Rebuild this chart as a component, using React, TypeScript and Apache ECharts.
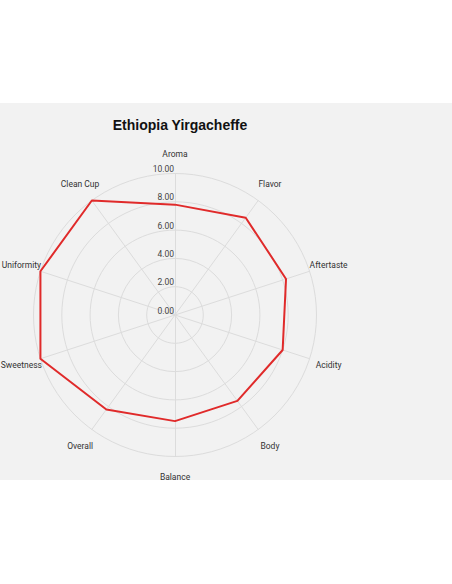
import { useEffect, useRef } from 'react';
import * as echarts from 'echarts';

const indicators = [
  'Aroma',
  'Flavor',
  'Aftertaste',
  'Acidity',
  'Body',
  'Balance',
  'Overall',
  'Sweetness',
  'Uniformity',
  'Clean Cup',
];

const scores = [7.8, 8.5, 8.25, 8.0, 7.5, 7.5, 8.25, 10, 10, 10];

const title = 'Ethiopia Yirgacheffe';
const scoreMax = 10;

// echarts lays indicators out counter-clockwise; the reference goes clockwise
const order = [0, ...indicators.map((_, i) => i).slice(1).reverse()];

export default function App() {
  const chartRef = useRef<HTMLDivElement>(null);

  useEffect(() => {
    if (!chartRef.current) return;
    const chart = echarts.init(chartRef.current, null, { renderer: 'svg' });

    const option: echarts.EChartsOption = {
      animation: false,
      backgroundColor: '#f2f2f2',
      title: {
        text: title,
        left: 175,
        top: 10,
        textAlign: 'center',
        textStyle: {
          fontFamily: 'Liberation Sans, Arial, sans-serif',
          fontSize: 14,
          fontWeight: 'bold',
          color: '#111',
        },
      },
      graphic: [
        {
          type: 'text',
          left: 448,
          top: 2,
          style: { text: '⋮', fontSize: 12, fill: '#999', fontFamily: 'DejaVu Sans' },
        },
      ],
      radar: {
        center: [175, 212],
        radius: 141.5,
        shape: 'circle',
        splitNumber: 5,
        startAngle: 90,
        axisNameGap: 20,
        axisName: {
          color: '#333',
          fontFamily: 'Roboto, sans-serif',
          fontSize: 8.5,
          align: 'center',
          verticalAlign: 'middle',
        } as any,
        splitArea: { show: false },
        splitLine: { lineStyle: { color: '#dcdcdc', width: 1 } },
        axisLine: { lineStyle: { color: '#dcdcdc', width: 1 } },
        axisTick: { show: false },
        axisLabel: { show: false },
        indicator: order.map((idx) =>
          idx === 0
            ? {
                name: indicators[idx],
                min: 0,
                max: scoreMax,
                axisLabel: {
                  show: true,
                  color: '#444',
                  fontFamily: 'Roboto, sans-serif',
                  fontSize: 8.5,
                  margin: 1,
                  verticalAlign: 'bottom',
                  formatter: (v: number) => v.toFixed(2),
                },
              }
            : { name: indicators[idx], min: 0, max: scoreMax }
        ) as any,
      },
      series: [
        {
          type: 'radar',
          symbol: 'none',
          lineStyle: { color: '#e02a2a', width: 2 },
          itemStyle: { color: '#e02a2a' },
          data: [{ value: order.map((idx) => scores[idx]), name: title }],
        },
      ],
    };

    chart.setOption(option);
    return () => chart.dispose();
  }, []);

  return (
    <div
      ref={chartRef}
      style={{ position: 'absolute', left: 0, top: 103, width: 452, height: 377 }}
    />
  );
}
